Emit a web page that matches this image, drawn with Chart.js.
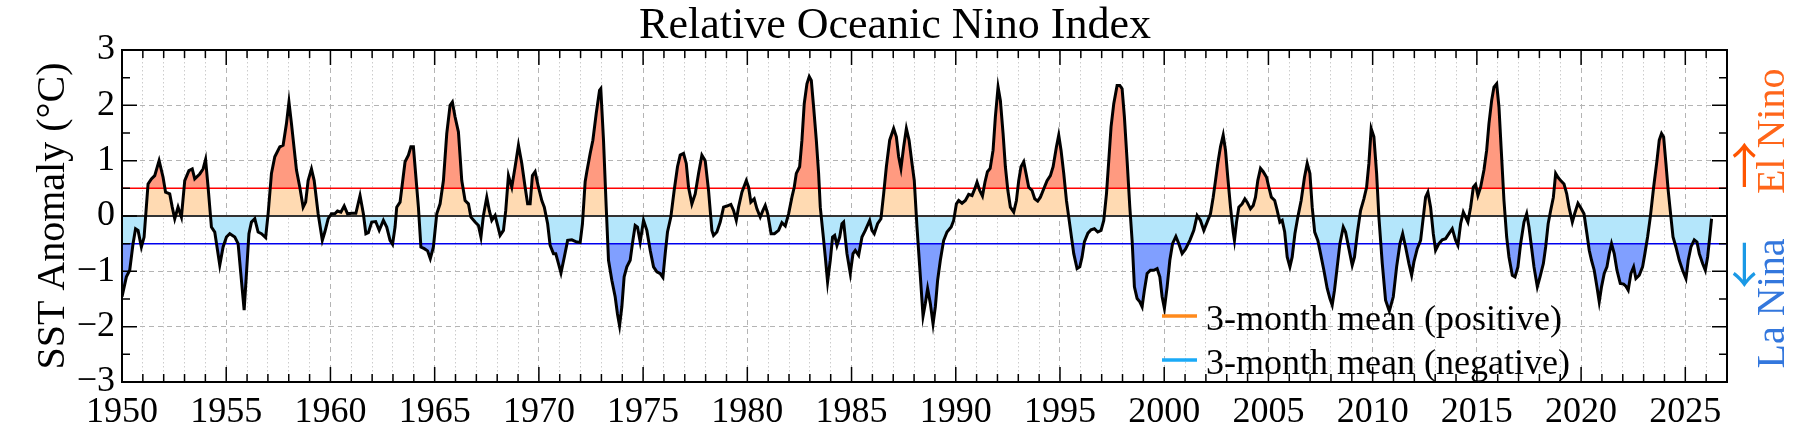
<!DOCTYPE html>
<html>
<head>
<meta charset="utf-8">
<script src="https://cdn.jsdelivr.net/npm/chart.js@4.4.1/dist/chart.umd.min.js"></script>
<style>
  html, body { margin: 0; padding: 0; background: #fff; }
</style>
</head>
<body>
<canvas id="chart1" width="1800" height="440"></canvas>
<script>
// decimal years and relative ONI values
var years1950s = [
  1950.00, 1950.21, 1950.37, 1950.53, 1950.65, 1950.77, 1950.93,
  1951.06, 1951.25, 1951.41, 1951.57, 1951.78, 1951.97,
  1952.09, 1952.29, 1952.41, 1952.53, 1952.69, 1952.85,
  1953.01, 1953.21, 1953.37, 1953.49, 1953.73, 1953.89,
  1954.01, 1954.13, 1954.29, 1954.45, 1954.69, 1954.85,
  1955.01, 1955.17, 1955.41, 1955.57, 1955.70, 1955.86, 1955.97,
  1956.09, 1956.21, 1956.37, 1956.53, 1956.69, 1956.89,
  1957.01, 1957.17, 1957.33, 1957.57, 1957.73, 1957.89,
  1958.01, 1958.13, 1958.37, 1958.53, 1958.69, 1958.81, 1958.93,
  1959.09, 1959.22, 1959.41, 1959.61, 1959.73, 1959.89
];
var roni1950s = [
  -1.46, -1.10, -0.98, -0.50, -0.23, -0.26, -0.56,
  -0.38, 0.58, 0.67, 0.73, 1.00, 0.70,
  0.43, 0.40, 0.16, -0.05, 0.16, -0.02,
  0.64, 0.82, 0.85, 0.67, 0.76, 0.85,
  1.02, 0.52, -0.20, -0.29, -0.89, -0.56,
  -0.38, -0.32, -0.38, -0.50, -1.04, -1.70, -1.04,
  -0.32, -0.11, -0.05, -0.29, -0.32, -0.39,
  0.04, 0.77, 1.07, 1.25, 1.28, 1.67,
  2.06, 1.67, 0.83, 0.52, 0.16, 0.25, 0.64,
  0.85, 0.64, 0.04, -0.44, -0.29, -0.05
];

var years1960s = [
  1960.05, 1960.21, 1960.34, 1960.50, 1960.66, 1960.82,
  1961.02, 1961.22, 1961.42, 1961.58, 1961.70, 1961.82, 1961.98,
  1962.17, 1962.34, 1962.54, 1962.70, 1962.86, 1962.98,
  1963.10, 1963.18, 1963.34, 1963.58, 1963.74, 1963.86, 1963.98,
  1964.06, 1964.22, 1964.34, 1964.50, 1964.66, 1964.79, 1964.94,
  1965.10, 1965.26, 1965.42, 1965.58, 1965.74, 1965.85, 1965.98,
  1966.14, 1966.30, 1966.46, 1966.62, 1966.74, 1966.94,
  1967.10, 1967.22, 1967.34, 1967.50, 1967.62, 1967.74, 1967.90,
  1968.02, 1968.14, 1968.30, 1968.41, 1968.54, 1968.70, 1968.86,
  1969.02, 1969.18, 1969.34, 1969.46, 1969.58, 1969.69, 1969.82, 1969.98
];
var roni1960s = [
  0.04, 0.04, 0.09, 0.07, 0.18, 0.04,
  0.05, 0.05, 0.37, 0.04, -0.32, -0.30, -0.11,
  -0.10, -0.26, -0.08, -0.20, -0.44, -0.51,
  -0.20, 0.16, 0.25, 0.98, 1.10, 1.25, 1.25,
  0.89, 0.16, -0.56, -0.59, -0.63, -0.77, -0.56,
  0.04, 0.22, 0.64, 1.49, 2.00, 2.06, 1.79,
  1.52, 0.64, 0.28, 0.22, -0.02, -0.11,
  -0.17, -0.38, 0.01, 0.34, 0.10, -0.08, 0.01,
  -0.17, -0.35, -0.26, 0.10, 0.73, 0.52, 0.89,
  1.28, 0.95, 0.52, 0.22, 0.22, 0.73, 0.80, 0.52
];

var years1970s = [
  1970.14, 1970.26, 1970.42, 1970.54, 1970.70, 1970.81, 1970.94,
  1971.06, 1971.22, 1971.38, 1971.58, 1971.82, 1971.98,
  1972.09, 1972.22, 1972.30, 1972.46, 1972.59, 1972.75, 1972.91, 1972.97,
  1973.10, 1973.23, 1973.34, 1973.50, 1973.66, 1973.77, 1973.87, 1973.98,
  1974.09, 1974.22, 1974.38, 1974.51, 1974.62, 1974.73, 1974.86,
  1975.02, 1975.18, 1975.34, 1975.50, 1975.66, 1975.82, 1975.95,
  1976.06, 1976.17, 1976.33, 1976.49, 1976.65, 1976.78, 1976.94,
  1977.07, 1977.18, 1977.34, 1977.50, 1977.66, 1977.82, 1977.98,
  1978.14, 1978.30, 1978.38, 1978.54, 1978.70, 1978.86,
  1979.02, 1979.21, 1979.34, 1979.47, 1979.58, 1979.74, 1979.95
];
var roni1970s = [
  0.28, 0.16, -0.14, -0.53, -0.68, -0.68, -0.86,
  -1.03, -0.74, -0.44, -0.43, -0.47, -0.48,
  -0.14, 0.62, 0.80, 1.13, 1.37, 1.85, 2.27, 2.30,
  1.37, 0.16, -0.80, -1.16, -1.46, -1.77, -1.98, -1.64,
  -1.10, -0.92, -0.80, -0.44, -0.17, -0.20, -0.47,
  -0.08, -0.26, -0.62, -0.92, -1.01, -1.04, -1.11,
  -0.68, -0.29, -0.02, 0.46, 0.89, 1.10, 1.13,
  0.95, 0.52, 0.22, 0.40, 0.77, 1.10, 1.00,
  0.46, -0.26, -0.35, -0.29, -0.11, 0.16,
  0.18, 0.21, 0.10, -0.08, 0.16, 0.43, 0.64
];

var years1980s = [
  1980.06, 1980.17, 1980.33, 1980.46, 1980.62, 1980.75, 1980.86, 1980.98,
  1981.14, 1981.30, 1981.50, 1981.66, 1981.82, 1981.98,
  1982.14, 1982.25, 1982.35, 1982.51, 1982.62, 1982.73, 1982.86, 1982.97,
  1983.07, 1983.18, 1983.31, 1983.42, 1983.50, 1983.63, 1983.74, 1983.85, 1983.98,
  1984.09, 1984.19, 1984.30, 1984.43, 1984.54, 1984.62, 1984.78, 1984.94,
  1985.07, 1985.18, 1985.34, 1985.50, 1985.66, 1985.87, 1985.98,
  1986.09, 1986.25, 1986.41, 1986.54, 1986.67, 1986.83,
  1987.02, 1987.15, 1987.26, 1987.37, 1987.50, 1987.63, 1987.76, 1987.90,
  1988.01, 1988.14, 1988.27, 1988.43, 1988.54, 1988.65, 1988.78, 1988.91,
  1989.02, 1989.13, 1989.26, 1989.42, 1989.58, 1989.78, 1989.90
];
var roni1980s = [
  0.52, 0.25, 0.31, 0.13, -0.02, 0.10, 0.19, 0.04,
  -0.32, -0.32, -0.26, -0.12, -0.18, 0.04,
  0.34, 0.52, 0.77, 0.89, 1.37, 2.03, 2.39, 2.52,
  2.45, 1.97, 1.37, 0.77, 0.16, -0.32, -0.74, -1.19, -0.80,
  -0.38, -0.35, -0.53, -0.38, -0.14, -0.11, -0.68, -1.04,
  -0.68, -0.62, -0.71, -0.38, -0.26, -0.08, -0.26,
  -0.32, -0.14, -0.05, 0.40, 0.89, 1.37,
  1.58, 1.43, 1.07, 0.86, 1.25, 1.58, 1.37, 0.95,
  0.64, -0.20, -0.92, -1.81, -1.58, -1.31, -1.58, -1.95,
  -1.64, -1.16, -0.80, -0.44, -0.29, -0.20, -0.08
];

var years1990s = [
  1990.03, 1990.14, 1990.30, 1990.46, 1990.62, 1990.78, 1990.91,
  1991.02, 1991.15, 1991.28, 1991.40, 1991.52, 1991.65, 1991.79, 1991.90,
  1992.03, 1992.14, 1992.27, 1992.38, 1992.50, 1992.62, 1992.78, 1992.91,
  1993.02, 1993.13, 1993.26, 1993.37, 1993.50, 1993.66, 1993.79, 1993.93,
  1994.06, 1994.22, 1994.38, 1994.54, 1994.67, 1994.83, 1994.94,
  1995.05, 1995.18, 1995.31, 1995.42, 1995.54, 1995.66, 1995.82, 1995.95,
  1996.06, 1996.17, 1996.34, 1996.49, 1996.65, 1996.81, 1996.97,
  1997.10, 1997.23, 1997.34, 1997.45, 1997.58, 1997.74, 1997.87, 1997.98,
  1998.09, 1998.22, 1998.35, 1998.46, 1998.57, 1998.70, 1998.83, 1998.94,
  1999.05, 1999.18, 1999.34, 1999.50, 1999.66, 1999.79, 1999.90
];
var roni1990s = [
  0.22, 0.28, 0.23, 0.28, 0.39, 0.37, 0.49,
  0.61, 0.46, 0.36, 0.61, 0.80, 0.86, 1.19, 1.79,
  2.33, 2.09, 1.49, 0.89, 0.46, 0.16, 0.07, 0.28,
  0.64, 0.89, 0.98, 0.77, 0.52, 0.46, 0.31, 0.27,
  0.34, 0.49, 0.64, 0.73, 0.89, 1.25, 1.46,
  1.19, 0.77, 0.28, -0.02, -0.35, -0.68, -0.95, -0.92,
  -0.74, -0.47, -0.31, -0.25, -0.23, -0.29, -0.26,
  -0.08, 0.40, 1.00, 1.61, 2.03, 2.36, 2.36, 2.30,
  1.79, 1.00, 0.16, -0.44, -1.28, -1.49, -1.55, -1.64,
  -1.34, -1.04, -0.98, -0.98, -0.95, -1.10, -1.46
];

var years2000s = [
  2000.01, 2000.14, 2000.27, 2000.40, 2000.56, 2000.70, 2000.86,
  2001.02, 2001.23, 2001.42, 2001.58, 2001.74, 2001.90,
  2002.06, 2002.22, 2002.35, 2002.46, 2002.57, 2002.70, 2002.83, 2002.94,
  2003.05, 2003.18, 2003.31, 2003.37, 2003.47, 2003.58, 2003.74, 2003.87, 2003.98,
  2004.14, 2004.27, 2004.38, 2004.49, 2004.62, 2004.75, 2004.91,
  2005.02, 2005.14, 2005.30, 2005.42, 2005.55, 2005.66, 2005.78, 2005.90,
  2006.03, 2006.14, 2006.27, 2006.41, 2006.57, 2006.73, 2006.86, 2006.99,
  2007.10, 2007.22, 2007.37, 2007.50, 2007.66, 2007.82, 2007.95,
  2008.06, 2008.17, 2008.30, 2008.43, 2008.59, 2008.70, 2008.86,
  2009.02, 2009.13, 2009.26, 2009.42, 2009.58, 2009.71, 2009.82, 2009.93
];
var roni2000s = [
  -1.67, -1.28, -0.80, -0.50, -0.37, -0.50, -0.68,
  -0.60, -0.44, -0.26, 0.01, -0.08, -0.26,
  -0.11, 0.04, 0.34, 0.64, 0.95, 1.25, 1.46, 1.19,
  0.70, 0.16, -0.29, -0.44, -0.11, 0.16, 0.22, 0.31, 0.25,
  0.13, 0.19, 0.34, 0.64, 0.86, 0.80, 0.70,
  0.52, 0.34, 0.28, 0.10, -0.11, -0.08, -0.29, -0.74,
  -0.92, -0.74, -0.32, -0.02, 0.28, 0.70, 0.95, 0.77,
  0.16, -0.29, -0.44, -0.68, -0.98, -1.31, -1.49,
  -1.61, -1.34, -0.92, -0.50, -0.20, -0.29, -0.59,
  -0.89, -0.74, -0.32, 0.10, 0.31, 0.52, 0.95, 1.58
];

var years2010s = [
  2010.06, 2010.19, 2010.30, 2010.46, 2010.62, 2010.80, 2010.99,
  2011.15, 2011.31, 2011.44, 2011.58, 2011.74, 2011.87, 2011.98,
  2012.14, 2012.30, 2012.43, 2012.54, 2012.65, 2012.78, 2012.91,
  2013.02, 2013.18, 2013.34, 2013.50, 2013.66, 2013.82, 2013.98,
  2014.09, 2014.22, 2014.35, 2014.46, 2014.57, 2014.70, 2014.83, 2014.94,
  2015.05, 2015.18, 2015.34, 2015.47, 2015.58, 2015.71, 2015.82, 2015.95,
  2016.06, 2016.17, 2016.30, 2016.43, 2016.54, 2016.70, 2016.83, 2016.97,
  2017.10, 2017.26, 2017.39, 2017.50, 2017.62, 2017.74, 2017.90,
  2018.03, 2018.19, 2018.30, 2018.42, 2018.54, 2018.67, 2018.78, 2018.89,
  2019.02, 2019.18, 2019.31, 2019.42, 2019.58, 2019.69, 2019.85
];
var roni2010s = [
  1.43, 0.77, -0.02, -0.85, -1.52, -1.72, -1.46,
  -0.92, -0.50, -0.32, -0.56, -0.86, -1.07, -0.83,
  -0.59, -0.44, -0.02, 0.34, 0.43, 0.16, -0.32,
  -0.62, -0.50, -0.43, -0.41, -0.32, -0.23, -0.44,
  -0.53, -0.14, 0.07, -0.02, -0.11, 0.16, 0.52, 0.57,
  0.37, 0.52, 0.83, 1.19, 1.67, 2.09, 2.33, 2.39,
  1.97, 1.19, 0.28, -0.38, -0.74, -1.07, -1.10, -0.92,
  -0.50, -0.11, 0.04, -0.20, -0.56, -0.92, -1.28,
  -1.10, -0.86, -0.56, -0.14, 0.10, 0.34, 0.77, 0.70,
  0.64, 0.58, 0.40, 0.16, -0.11, 0.04, 0.23
];

var years2020s = [
  2020.01, 2020.14, 2020.28, 2020.39, 2020.50, 2020.63, 2020.76, 2020.87, 2020.98,
  2021.11, 2021.24, 2021.35, 2021.46, 2021.59, 2021.72, 2021.88,
  2022.04, 2022.15, 2022.26, 2022.39, 2022.52, 2022.63, 2022.79, 2022.95,
  2023.06, 2023.19, 2023.32, 2023.48, 2023.64, 2023.75, 2023.86, 2023.96,
  2024.07, 2024.18, 2024.31, 2024.41, 2024.55, 2024.71, 2024.87,
  2025.03, 2025.14, 2025.27, 2025.43, 2025.56, 2025.67, 2025.83, 2025.96,
  2026.07, 2026.19, 2026.26
];
var roni2020s = [
  0.13, 0.04, -0.32, -0.62, -0.80, -0.98, -1.28, -1.55, -1.28,
  -1.04, -0.92, -0.68, -0.50, -0.68, -0.98, -1.22,
  -1.23, -1.27, -1.34, -1.04, -0.92, -1.13, -1.07, -0.92,
  -0.68, -0.38, -0.02, 0.52, 1.00, 1.37, 1.49, 1.43,
  0.95, 0.46, -0.02, -0.38, -0.56, -0.80, -0.98,
  -1.13, -0.80, -0.56, -0.43, -0.47, -0.68, -0.86, -0.98,
  -0.74, -0.32, -0.05
];

var thresholds = [0.5, -0.5];
var xRange = [1950, 2027];
var yRange = [-3, 3];
var legendLabels = ['3-month mean (positive)', '3-month mean (negative)'];
var legendColors = ['#ff8a1c', '#1aaaf7'];

var decadeYears = [years1950s, years1960s, years1970s, years1980s, years1990s, years2000s, years2010s, years2020s];
var decadeRoni = [roni1950s, roni1960s, roni1970s, roni1980s, roni1990s, roni2000s, roni2010s, roni2020s];
decadeYears.forEach(function(d, i) {
  if (d.length !== decadeRoni[i].length) {
    throw new Error('length mismatch in decade ' + i + ': ' + d.length + ' vs ' + decadeRoni[i].length);
  }
});

var years = [].concat.apply([], decadeYears);
var roni = [].concat.apply([], decadeRoni);
var points = years.map(function(x, i) { return {x: x, y: roni[i]}; });

function flatLine(v) {
  return [{x: xRange[0], y: v}, {x: xRange[1], y: v}];
}

var serif = 'Liberation Serif';
var clear = 'rgba(0,0,0,0)';

// title, inward ticks, frame, legend and the El Nino / La Nina side labels
var framePlugin = {
  id: 'frame',
  afterDraw: function(chart) {
    var ctx = chart.ctx, a = chart.chartArea;
    var xs = chart.scales.x, ys = chart.scales.y;
    ctx.save();

    ctx.fillStyle = '#000';
    ctx.font = '44px "' + serif + '"';
    ctx.textAlign = 'center';
    ctx.textBaseline = 'alphabetic';
    ctx.fillText('Relative Oceanic Nino Index', 895, a.top - 12);

    ctx.strokeStyle = '#000';
    ctx.lineWidth = 1.5;
    ctx.beginPath();
    for (var yr = xRange[0]; yr <= xRange[1]; yr++) {
      var px = xs.getPixelForValue(yr);
      var len = yr % 5 === 0 ? 15 : 8;
      ctx.moveTo(px, a.bottom); ctx.lineTo(px, a.bottom - len);
      ctx.moveTo(px, a.top); ctx.lineTo(px, a.top + len);
    }
    for (var k = 0; k <= (yRange[1] - yRange[0]) * 2; k++) {
      var v = yRange[0] + k * 0.5;
      var py = ys.getPixelForValue(v);
      var l2 = Number.isInteger(v) ? 15 : 8;
      ctx.moveTo(a.left, py); ctx.lineTo(a.left + l2, py);
      ctx.moveTo(a.right, py); ctx.lineTo(a.right - l2, py);
    }
    ctx.stroke();
    ctx.lineWidth = 2;
    ctx.strokeRect(a.left, a.top, a.right - a.left, a.bottom - a.top);

    // legend
    ctx.font = '36px "' + serif + '"';
    ctx.textAlign = 'left';
    legendLabels.forEach(function(lab, i) {
      var ly = a.bottom - 66 + i * 44;
      ctx.strokeStyle = legendColors[i];
      ctx.lineWidth = 3.5;
      ctx.beginPath();
      ctx.moveTo(a.right - 565, ly);
      ctx.lineTo(a.right - 530, ly);
      ctx.stroke();
      ctx.fillStyle = '#000';
      ctx.fillText(lab, a.right - 521, ly + 14);
    });

    // side labels
    function vtext(txt, x, y, color, font) {
      ctx.save();
      ctx.translate(x, y);
      ctx.rotate(-Math.PI / 2);
      ctx.fillStyle = color;
      ctx.font = font;
      ctx.textAlign = 'center';
      ctx.textBaseline = 'middle';
      ctx.fillText(txt, 0, 0);
      ctx.restore();
    }
    var labelFont = '40px "' + serif + '"';
    var arrowFont = '48px "Noto Sans CJK JP"';
    vtext('El Nino', a.right + 46, ys.getPixelForValue(1.53), '#ff661a', labelFont);
    vtext('\u2192', a.right + 17, ys.getPixelForValue(0.92), '#ff5500', arrowFont);
    vtext('La Nina', a.right + 46, ys.getPixelForValue(-1.58), '#3377dd', labelFont);
    vtext('\u2190', a.right + 17, ys.getPixelForValue(-0.88), '#1a99e6', arrowFont);

    ctx.restore();
  }
};

var ctx = document.getElementById('chart1').getContext('2d');
var myChart = new Chart(ctx, {
  type: 'line',
  data: {
    datasets: [
      { data: points, borderColor: '#000', borderWidth: 3, pointRadius: 0, tension: 0, fill: false, order: 0 },
      { data: flatLine(thresholds[0]), borderColor: '#ff0000', borderWidth: 1.5, pointRadius: 0, fill: false, order: 1 },
      { data: flatLine(thresholds[1]), borderColor: '#0000ee', borderWidth: 1.5, pointRadius: 0, fill: false, order: 1 },
      { data: flatLine(0), borderColor: '#333', borderWidth: 2, pointRadius: 0, fill: false, order: 1 },
      { data: points, borderColor: clear, borderWidth: 0, pointRadius: 0, tension: 0, order: 2,
        fill: { target: { value: thresholds[0] }, above: '#ff9a80', below: clear } },
      { data: points, borderColor: clear, borderWidth: 0, pointRadius: 0, tension: 0, order: 2,
        fill: { target: { value: thresholds[1] }, above: clear, below: '#809fff' } },
      { data: points, borderColor: clear, borderWidth: 0, pointRadius: 0, tension: 0, order: 3,
        fill: { target: { value: 0 }, above: '#ffdab2', below: '#b4e6fb' } }
    ]
  },
  options: {
    responsive: false,
    animation: false,
    events: [],
    devicePixelRatio: 1,
    layout: { padding: { left: 0, right: 73, top: 50, bottom: 0 } },
    scales: {
      x: {
        type: 'linear',
        min: xRange[0],
        max: xRange[1],
        ticks: {
          stepSize: 1,
          maxTicksLimit: 200,
          autoSkip: false,
          maxRotation: 0,
          minRotation: 0,
          padding: 9,
          color: '#000',
          font: { family: serif, size: 36 },
          callback: function(v) { return Math.round(v) % 5 === 0 ? String(Math.round(v)) : ''; }
        },
        grid: {
          drawTicks: false,
          lineWidth: 1,
          color: function(c) { return c.tick && Math.round(c.tick.value) % 5 === 0 ? '#b4b4b4' : '#cccccc'; }
        },
        border: {
          display: false,
          dash: function(c) { return c.tick && Math.round(c.tick.value) % 5 === 0 ? [5, 4] : [1.5, 2.5]; }
        },
        afterFit: function(s) { s.height = 58; }
      },
      y: {
        min: yRange[0],
        max: yRange[1],
        ticks: {
          stepSize: 0.5,
          maxTicksLimit: 50,
          padding: 7,
          color: '#000',
          font: { family: serif, size: 36 },
          callback: function(v) {
            if (!Number.isInteger(v)) return '';
            return v < 0 ? '\u2212' + Math.abs(v) : String(v);
          }
        },
        grid: {
          drawTicks: false,
          lineWidth: 1,
          color: function(c) { return c.tick && Number.isInteger(c.tick.value) ? '#b4b4b4' : '#cccccc'; }
        },
        border: {
          display: false,
          dash: function(c) { return c.tick && Number.isInteger(c.tick.value) ? [5, 4] : [1.5, 2.5]; }
        },
        title: {
          display: true,
          text: 'SST Anomaly (\u00b0C)',
          color: '#000',
          font: { family: serif, size: 40 },
          padding: { top: 29, bottom: 0 }
        },
        afterFit: function(s) { s.width = 122; }
      }
    },
    plugins: {
      legend: { display: false },
      tooltip: { enabled: false },
      title: { display: false },
      filler: { propagate: false, drawTime: 'beforeDatasetsDraw' }
    }
  },
  plugins: [framePlugin]
});
</script>
</body>
</html>
